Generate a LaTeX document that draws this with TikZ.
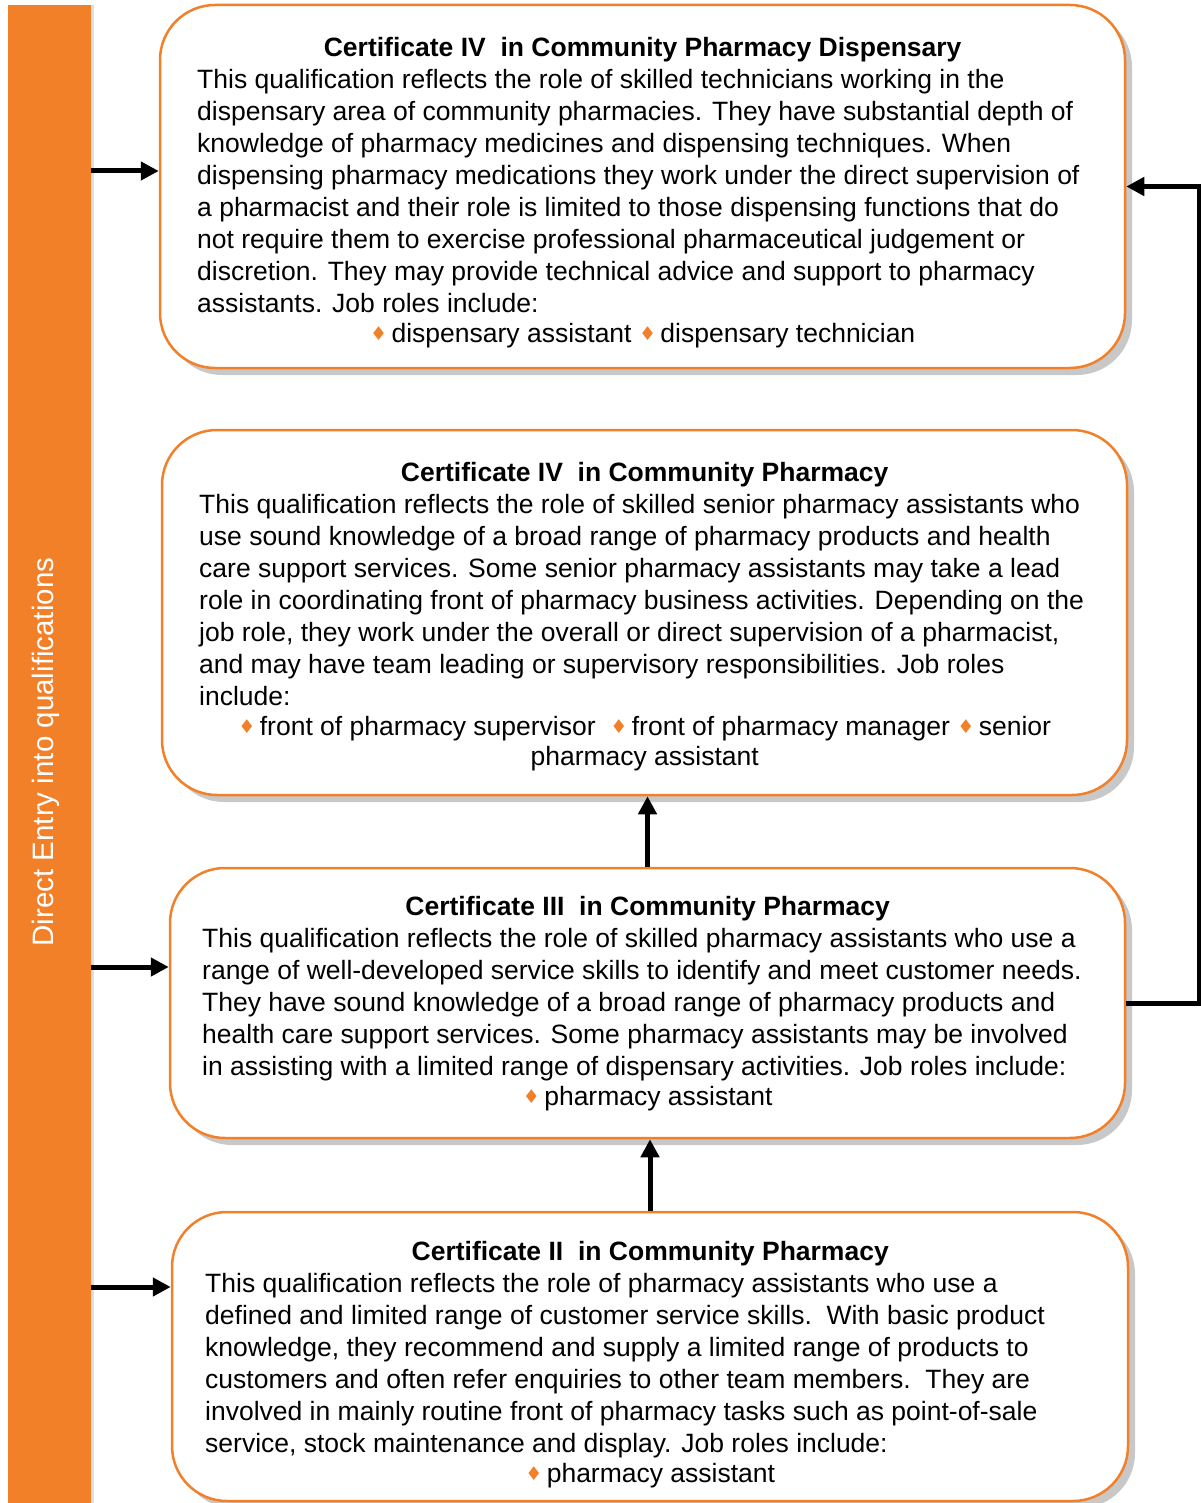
\documentclass[tikz,border=0pt]{standalone}
\usepackage{fontspec}
\setmainfont{Liberation Sans}
\newfontfamily\djv{DejaVu Sans}
\usetikzlibrary{arrows.meta,shadows}
\definecolor{orng}{RGB}{242,128,40}
\definecolor{shgray}{RGB}{200,200,200}
\newcommand{\dmd}{{\djv\fontsize{19}{19}\selectfont\color{orng}\raisebox{2pt}{♦}}}
\begin{document}
\begin{tikzpicture}[x=1pt,y=-1pt,
  qbox/.style={draw=orng, line width=2.5pt, fill=white, rounded corners=55pt, inner sep=0pt,
    drop shadow={shadow xshift=7pt, shadow yshift=-7pt, fill=shgray, opacity=1}},
  qtext/.style={align=left, anchor=north west, inner sep=0pt, font=\fontsize{26.5}{32}\selectfont, text=black},
  arr/.style={line width=5pt, draw=black, -{Triangle[length=18pt,width=18pt]}},
]
\useasboundingbox (0,0) rectangle (1200,1503);
% side bar
\node[fill=orng, minimum width=83pt, minimum height=1500pt, inner sep=0pt, anchor=north west,
  drop shadow={shadow xshift=3pt, shadow yshift=0pt, fill=shgray, opacity=0.6}] (bar) at (8,5) {};
\node[rotate=90, text=white, font=\fontsize{29.5}{30}\selectfont] (entry) at (46,752) {Direct Entry into qualifications};
% boxes
\node[qbox, minimum width=965pt, minimum height=363pt] (b1) at (642.5,186.5) {};
\node[qbox, minimum width=965pt, minimum height=365pt] (b2) at (644.5,612.5) {};
\node[qbox, minimum width=955pt, minimum height=270pt] (b3) at (647.5,1003) {};
\node[qbox, minimum width=956pt, minimum height=289pt] (b4) at (650,1356.5) {};
% texts
\node[qtext] (t1) at (197,33.6) {\makebox[891pt]{\strut\bfseries Certificate IV\ \ in Community Pharmacy Dispensary}\\
This qualification reflects the role of skilled technicians working in the\\
dispensary area of community pharmacies. They have substantial depth of\\
knowledge of pharmacy medicines and dispensing techniques. When\\
dispensing pharmacy medications they work under the direct supervision of\\
a pharmacist and their role is limited to those dispensing functions that do\\
not require them to exercise professional pharmaceutical judgement or\\
discretion. They may provide technical advice and support to pharmacy\\
assistants. Job roles include:\\[-2pt]
\makebox[891pt]{\dmd\,dispensary assistant \dmd\,dispensary technician}};
\node[qtext] (t2) at (199,458.6) {\makebox[891pt]{\strut\bfseries Certificate IV\ \ in Community Pharmacy}\\
This qualification reflects the role of skilled senior pharmacy assistants who\\
use sound knowledge of a broad range of pharmacy products and health\\
care support services. Some senior pharmacy assistants may take a lead\\
role in coordinating front of pharmacy business activities. Depending on the\\
job role, they work under the overall or direct supervision of a pharmacist,\\
and may have team leading or supervisory responsibilities. Job roles\\
include:\\[-2pt]
\makebox[891pt]{\dmd\,front of pharmacy supervisor\ \ \dmd\,front of pharmacy manager \dmd\,senior}\\[-2pt]
\makebox[891pt]{pharmacy assistant}};
\node[qtext] (t3) at (202,892.6) {\makebox[891pt]{\strut\bfseries Certificate III\ \ in Community Pharmacy}\\
This qualification reflects the role of skilled pharmacy assistants who use a\\
range of well-developed service skills to identify and meet customer needs.\\
They have sound knowledge of a broad range of pharmacy products and\\
health care support services. Some pharmacy assistants may be involved\\
in assisting with a limited range of dispensary activities. Job roles include:\\[-2pt]
\makebox[891pt]{\dmd\,pharmacy assistant}};
\node[qtext] (t4) at (205,1237.6) {\makebox[890pt]{\strut\bfseries Certificate II\ \ in Community Pharmacy}\\
This qualification reflects the role of pharmacy assistants who use a\\
defined and limited range of customer service skills.\ \ With basic product\\
knowledge, they recommend and supply a limited range of products to\\
customers and often refer enquiries to other team members.\ \ They are\\
involved in mainly routine front of pharmacy tasks such as point-of-sale\\
service, stock maintenance and display. Job roles include:\\[-2pt]
\makebox[890pt]{\dmd\,pharmacy assistant}};
% connectors
\draw[arr] (bar.east |- 0,171) -- (b1.west |- 0,171);
\draw[arr] (bar.east |- 0,967) -- (b3.west |- 0,967);
\draw[arr] (bar.east |- 0,1287) -- (b4.west |- 0,1287);
\draw[arr] (b3.north) -- (b3.north |- b2.south);
\draw[arr] (b4.north) -- (b4.north |- b3.south);
\draw[arr] (b3.east) -- ++(73,0) |- (b1.east);
\end{tikzpicture}
\end{document}
